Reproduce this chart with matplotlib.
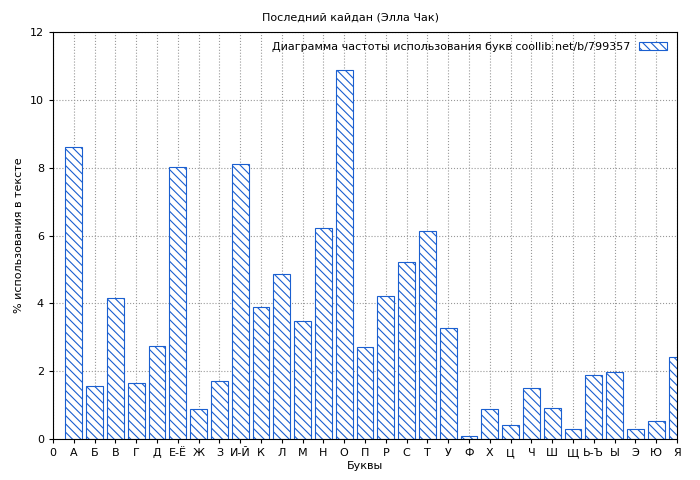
import matplotlib
matplotlib.use("Agg")
import matplotlib.pyplot as plt

labels = ["0","А","Б","В","Г","Д","Е-Ё","Ж","З","И-Й","К","Л","М","Н","О","П","Р","С","Т","У","Ф","Х","Ц","Ч","Ш","Щ","Ь-Ъ","Ы","Э","Ю","Я"]
letters = labels[1:]
values = [8.6,1.55,4.17,1.65,2.75,8.03,0.87,1.7,8.1,3.9,4.87,3.47,6.23,10.87,2.72,4.23,5.23,6.13,3.28,0.1,0.87,0.42,1.5,0.9,0.3,1.9,1.97,0.3,0.52,2.43]

plt.rcParams['hatch.color'] = '#1a5fd0'
plt.rcParams['hatch.linewidth'] = 0.8
fig = plt.figure(figsize=(7,4.8), dpi=100)
ax = fig.add_axes([53/700, 1-439/480, 624/700, 407/480])
pos = list(range(1, len(values)+1))
ax.bar(pos, values, width=0.8, facecolor='white', edgecolor='#1a5fd0', hatch='\\\\\\\\', linewidth=0.8,
       label='Диаграмма частоты использования букв coollib.net/b/799357')
ax.set_xlim(0, 30)
ax.set_ylim(0, 12)
ax.set_xticks(range(len(labels)))
ax.set_xticklabels(labels, fontsize=8)
ax.set_yticks(range(0, 13, 2))
ax.tick_params(labelsize=8, length=3)
ax.grid(True, linestyle=':', color='#999999', linewidth=0.8)
ax.set_axisbelow(True)
ax.set_xlabel('Буквы', fontsize=8, labelpad=2)
ax.set_ylabel('% использования в тексте', fontsize=8)
fig.suptitle('Последний кайдан (Элла Чак)', fontsize=8, y=0.975)
leg = ax.legend(loc='upper right', fontsize=8, frameon=False, handlelength=2.5, markerfirst=False)
fig.savefig('out.png', dpi=100)
